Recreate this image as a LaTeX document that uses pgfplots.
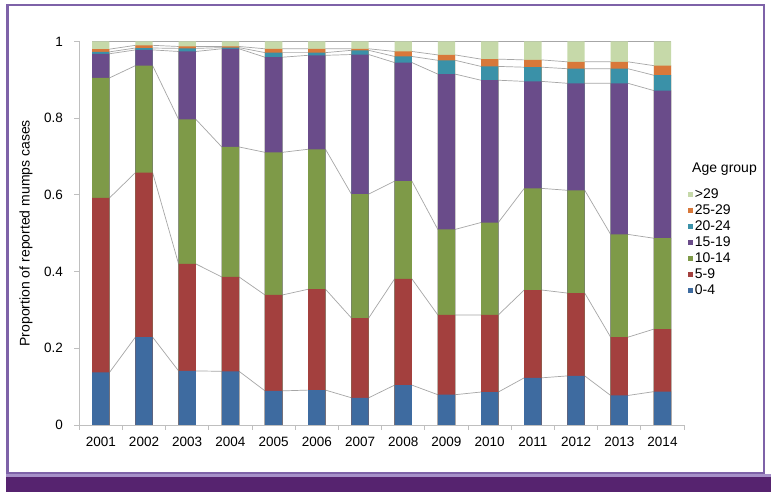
\documentclass[border=0pt]{standalone}
\usepackage{pgfplots}
\pgfplotsset{compat=1.18}
\usepackage{pgfplotstable}
\usepackage{fontspec}
\setmainfont{Liberation Sans}

\definecolor{cA}{HTML}{3E6BA0}
\definecolor{cB}{HTML}{A3403E}
\definecolor{cC}{HTML}{7E9A48}
\definecolor{cD}{HTML}{6A4C8A}
\definecolor{cE}{HTML}{3A91A8}
\definecolor{cF}{HTML}{D8783A}
\definecolor{cG}{HTML}{C6D9A9}
\definecolor{framec}{HTML}{7E62A8}
\definecolor{framel}{HTML}{A690C8}
\definecolor{bandc}{HTML}{56236F}
\definecolor{axgray}{HTML}{BFBFBF}
\definecolor{sergray}{HTML}{A6A6A6}

% cumulative tops of each age group (0-4, 5-9, 10-14, 15-19, 20-24, 25-29, >29)
\pgfplotstableread{
year a b c d e f g
1 0.137 0.592 0.905 0.968 0.973 0.980 1
2 0.229 0.658 0.937 0.978 0.983 0.990 1
3 0.141 0.420 0.797 0.974 0.982 0.987 1
4 0.140 0.386 0.725 0.981 0.984 0.987 1
5 0.089 0.339 0.711 0.959 0.971 0.981 1
6 0.091 0.354 0.719 0.964 0.971 0.981 1
7 0.071 0.279 0.602 0.966 0.977 0.981 1
8 0.104 0.381 0.636 0.945 0.961 0.974 1
9 0.079 0.287 0.510 0.915 0.951 0.965 1
10 0.086 0.287 0.528 0.899 0.935 0.954 1
11 0.123 0.352 0.617 0.896 0.933 0.952 1
12 0.128 0.344 0.612 0.891 0.929 0.947 1
13 0.077 0.229 0.497 0.891 0.929 0.947 1
14 0.087 0.250 0.487 0.872 0.912 0.937 1
}\cum

% series lines: same values at the left and right edge of each bar
\pgfplotstableread{
x a b c d e f g
0.8 0.137 0.592 0.905 0.968 0.973 0.980 1
1.2 0.137 0.592 0.905 0.968 0.973 0.980 1
1.8 0.229 0.658 0.937 0.978 0.983 0.990 1
2.2 0.229 0.658 0.937 0.978 0.983 0.990 1
2.8 0.141 0.420 0.797 0.974 0.982 0.987 1
3.2 0.141 0.420 0.797 0.974 0.982 0.987 1
3.8 0.140 0.386 0.725 0.981 0.984 0.987 1
4.2 0.140 0.386 0.725 0.981 0.984 0.987 1
4.8 0.089 0.339 0.711 0.959 0.971 0.981 1
5.2 0.089 0.339 0.711 0.959 0.971 0.981 1
5.8 0.091 0.354 0.719 0.964 0.971 0.981 1
6.2 0.091 0.354 0.719 0.964 0.971 0.981 1
6.8 0.071 0.279 0.602 0.966 0.977 0.981 1
7.2 0.071 0.279 0.602 0.966 0.977 0.981 1
7.8 0.104 0.381 0.636 0.945 0.961 0.974 1
8.2 0.104 0.381 0.636 0.945 0.961 0.974 1
8.8 0.079 0.287 0.510 0.915 0.951 0.965 1
9.2 0.079 0.287 0.510 0.915 0.951 0.965 1
9.8 0.086 0.287 0.528 0.899 0.935 0.954 1
10.2 0.086 0.287 0.528 0.899 0.935 0.954 1
10.8 0.123 0.352 0.617 0.896 0.933 0.952 1
11.2 0.123 0.352 0.617 0.896 0.933 0.952 1
11.8 0.128 0.344 0.612 0.891 0.929 0.947 1
12.2 0.128 0.344 0.612 0.891 0.929 0.947 1
12.8 0.077 0.229 0.497 0.891 0.929 0.947 1
13.2 0.077 0.229 0.497 0.891 0.929 0.947 1
13.8 0.087 0.250 0.487 0.872 0.912 0.937 1
14.2 0.087 0.250 0.487 0.872 0.912 0.937 1
}\lines

\begin{document}
\begin{tikzpicture}[x=1pt,y=1pt]
\useasboundingbox (0,0) rectangle (771,495);
\fill[white] (0,0) rectangle (771,495);
% frame and bottom band
\draw[framec, line width=2.6pt] (7.3,489.8) rectangle (763.8,22);
\fill[framel] (6,17.5) rectangle (771,20.5);
\fill[bandc] (6,3) rectangle (771,18);

\begin{axis}[
  at={(79.2pt,70pt)}, anchor=south west,
  scale only axis, width=604.9pt, height=383.5pt,
  xmin=0.5, xmax=14.5, ymin=0, ymax=1,
  axis lines*=left,
  axis line style={draw=axgray, line width=0.8pt},
  tick align=outside, major tick length=5pt,
  every tick/.style={draw=axgray, line width=0.8pt},
  xtick={0.5,1.5,...,14.5}, xticklabels={},
  extra x ticks={1,2,...,14},
  extra x tick labels={2001,2002,2003,2004,2005,2006,2007,2008,2009,2010,2011,2012,2013,2014},
  extra x tick style={major tick length=0pt},
  xticklabel style={font=\fontsize{13.5}{16}\selectfont, inner sep=0pt, anchor=north, yshift=-12pt},
  ytick={0,0.2,0.4,0.6,0.8,1},
  /pgf/number format/assume math mode=true,
  yticklabel style={font=\fontsize{13.5}{16}\selectfont, inner sep=0pt, anchor=east, xshift=-11pt},
  ylabel={Proportion of reported mumps cases},
  ylabel style={font=\fontsize{14}{16}\selectfont, at={(axis description cs:-0.088,0.5)}, anchor=center},
  ybar, bar width=0.4, bar shift=0pt,
  legend image code/.code={\fill[#1,draw=none] (0pt,-2.8pt) rectangle (5.6pt,2.8pt);},
  legend cell align=left,
  legend style={at={(axis description cs:1.0053,0.618)}, anchor=north west,
    draw=none, fill=none, inner sep=0pt, row sep=3pt, column sep=1.8pt,
    nodes={inner sep=0pt, text height=10pt, text depth=3pt, font=\fontsize{14}{16}\selectfont}},
]
\addplot[sharp plot, forget plot, sergray, line width=0.7pt] table[x=x,y=a]{\lines};
\addplot[sharp plot, forget plot, sergray, line width=0.7pt] table[x=x,y=b]{\lines};
\addplot[sharp plot, forget plot, sergray, line width=0.7pt] table[x=x,y=c]{\lines};
\addplot[sharp plot, forget plot, sergray, line width=0.7pt] table[x=x,y=d]{\lines};
\addplot[sharp plot, forget plot, sergray, line width=0.7pt] table[x=x,y=e]{\lines};
\addplot[sharp plot, forget plot, sergray, line width=0.7pt] table[x=x,y=f]{\lines};
\addplot[sharp plot, forget plot, sergray, line width=0.7pt] table[x=x,y=g]{\lines};

\addplot[fill=cG, draw=none, bar shift=0pt] table[x=year,y=g]{\cum};
\addlegendentry{>29}
\addplot[fill=cF, draw=none, bar shift=0pt] table[x=year,y=f]{\cum};
\addlegendentry{25-29}
\addplot[fill=cE, draw=none, bar shift=0pt] table[x=year,y=e]{\cum};
\addlegendentry{20-24}
\addplot[fill=cD, draw=none, bar shift=0pt] table[x=year,y=d]{\cum};
\addlegendentry{15-19}
\addplot[fill=cC, draw=none, bar shift=0pt] table[x=year,y=c]{\cum};
\addlegendentry{10-14}
\addplot[fill=cB, draw=none, bar shift=0pt] table[x=year,y=b]{\cum};
\addlegendentry{5-9}
\addplot[fill=cA, draw=none, bar shift=0pt] table[x=year,y=a]{\cum};
\addlegendentry{0-4}
\end{axis}
\node[anchor=west, inner sep=0pt, font=\fontsize{14}{16}\selectfont] at (692,326) {Age group};
\end{tikzpicture}
\end{document}
